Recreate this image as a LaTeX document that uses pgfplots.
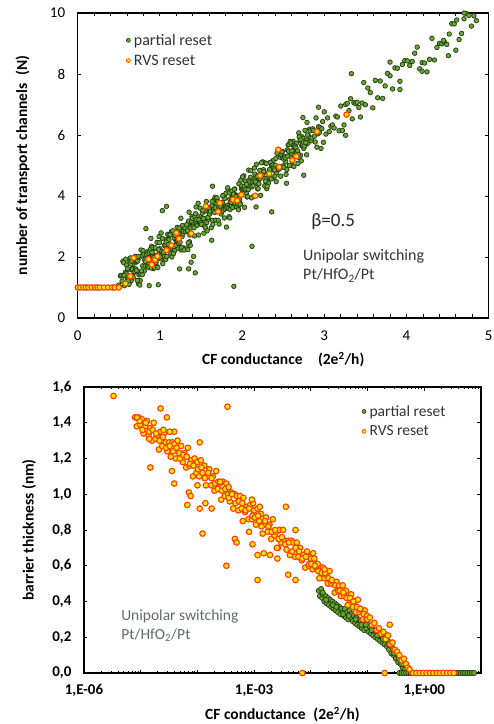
\documentclass[border=0pt]{standalone}
\usepackage{pgfplots}
\pgfplotsset{compat=1.18}
\usepackage{fontspec}
\setmainfont{Carlito}
\definecolor{gfill}{RGB}{106,166,50}
\definecolor{gedge}{RGB}{34,58,16}
\definecolor{ofill}{RGB}{255,228,0}
\definecolor{oedge}{RGB}{255,62,0}
\definecolor{notegray}{RGB}{100,104,110}
\definecolor{legtext}{RGB}{50,50,50}
\pgfplotsset{
  common/.style={
    scale only axis, anchor=south west,
    tick align=inside,
    major tick length=3.5pt, minor tick length=3.5pt,
    tick style={black, line width=0.8pt},
    axis line style={line width=1.4pt},
    /pgf/number format/assume math mode=true,
    legend cell align=left,
    legend style={draw=none, fill=none, row sep=6pt, column sep=0pt, inner sep=0pt,
      nodes={inner xsep=3.5pt, inner ysep=1pt, text=legtext}},
    legend image code/.code={\draw[##1, mark size=2pt, every mark/.append style={line width=0.6pt}] plot coordinates {(0pt,0pt)};},
    every axis x label/.style={at={(axis description cs:0.5,0)}, yshift=-42pt, anchor=center},
    every axis y label/.style={at={(axis description cs:0,0.5)}, xshift=-55pt, rotate=90, anchor=center},
    label style={font=\bfseries\fontsize{15.5}{16}\selectfont},
  },
  green/.style={only marks, mark=*, mark size=2.3pt, mark options={fill=gfill, draw=gedge, line width=0.7pt}},
  orange/.style={only marks, mark=*, mark size=2.7pt, mark options={fill=ofill, draw=oedge, line width=1.1pt}},
}
\begin{document}
\begin{tikzpicture}
\useasboundingbox (0,0) rectangle (494pt,724pt);
% ---------------- top panel ----------------
\begin{axis}[common,
  at={(77.7pt,406pt)}, width=411pt, height=305pt,
  xmin=0, xmax=5, ymin=0, ymax=10,
  xtick={0,...,5}, ytick={0,2,...,10}, minor x tick num=4,
  ticklabel style={font=\fontsize{15}{15}\selectfont},
  xticklabel style={yshift=-9pt},
  yticklabel style={xshift=-9pt},
  xlabel={CF conductance\quad (2e\textsuperscript{2}/h)},
  ylabel={number of transport channels\enspace(N)},
  legend style={at={(0.118,0.935)}, anchor=north west, font=\fontsize{16}{16}\selectfont},
]
\addplot[green] coordinates {
(0,1)(0.025,1)(0.05,1)(0.075,1)(0.1,1)(0.125,1)(0.15,1)(0.175,1)(0.2,1)(0.225,1)(0.25,1)(0.275,1)(0.3,1)(0.325,1)(0.35,1)(0.375,1)(0.4,1)(0.425,1)(0.45,1)(0.475,1)
(0.50,1.08)(0.51,1.01)(0.52,1.38)(0.53,1.40)(0.54,1.21)(0.55,1.86)(0.56,1.81)(0.57,1.06)(0.58,1.50)(0.59,1.45)
(0.60,1.33)(0.61,1.28)(0.62,1.58)(0.63,1.18)(0.64,1.97)(0.65,1.22)(0.66,1.59)(0.67,1.75)(0.68,1.63)(0.69,1.51)
(0.70,2.02)(0.71,1.83)(0.72,1.85)(0.73,1.87)(0.74,1.12)(0.75,1.98)(0.76,1.23)(0.77,2.23)(0.78,2.04)(0.79,1.71)
(0.80,2.15)(0.81,1.54)(0.82,1.70)(0.83,1.86)(0.84,1.95)(0.85,1.69)(0.86,1.99)(0.87,1.87)(0.88,1.89)(0.89,2.61)
(0.90,2.35)(0.91,2.09)(0.92,1.62)(0.93,2.27)(0.94,1.94)(0.95,1.96)(0.96,1.70)(0.97,2.07)(0.98,1.95)(0.99,2.67)
(1.00,2.27)(1.01,1.94)(1.02,2.17)(1.03,2.61)(1.04,2.07)(1.05,2.02)(1.06,2.39)(1.07,1.92)(1.08,2.57)(1.09,2.52)
(1.10,2.40)(1.11,2.56)(1.12,2.37)(1.13,2.25)(1.14,2.83)(1.15,2.22)(1.16,2.80)(1.17,2.19)(1.18,2.21)(1.19,2.58)
(1.20,2.53)(1.21,2.97)(1.22,2.29)(1.23,2.66)(1.24,2.75)(1.25,2.91)(1.26,2.23)(1.27,2.67)(1.28,2.76)(1.29,2.29)
(1.30,3.01)(1.31,2.26)(1.32,2.84)(1.33,2.30)(1.34,3.09)(1.35,3.18)(1.36,2.50)(1.37,2.38)(1.38,3.03)(1.39,3.33)
(1.40,3.07)(1.41,3.09)(1.42,2.69)(1.43,3.34)(1.44,3.64)(1.45,3.10)(1.46,3.33)(1.47,2.72)(1.48,3.16)(1.49,3.60)
(1.50,3.13)(1.51,3.29)(1.52,3.24)(1.53,3.26)(1.54,3.49)(1.55,3.51)(1.56,3.67)(1.57,3.13)(1.58,3.29)(1.59,3.24)
(1.60,3.47)(1.61,3.56)(1.62,3.58)(1.63,3.67)(1.64,3.20)(1.65,3.57)(1.66,3.87)(1.67,3.96)(1.68,3.21)(1.69,3.72)
(1.70,3.60)(1.71,3.20)(1.72,3.08)(1.73,3.66)(1.74,3.75)(1.75,3.70)(1.76,3.79)(1.77,4.02)(1.78,3.97)(1.79,3.92)
(1.80,3.66)(1.81,3.61)(1.82,3.70)(1.83,4.21)(1.84,3.32)(1.85,3.90)(1.86,3.78)(1.87,3.87)(1.88,4.03)(1.89,4.05)
(1.90,3.65)(1.91,4.23)(1.92,4.04)(1.93,3.92)(1.94,4.01)(1.95,3.61)(1.96,4.40)(1.97,3.86)(1.98,3.74)(1.99,4.25)
(2.00,4.20)(2.01,4.22)(2.02,4.66)(2.03,3.63)(2.04,4.49)(2.05,4.09)(2.06,3.97)(2.07,4.41)(2.08,4.85)(2.09,4.31)
(2.10,4.61)(2.11,4.42)(2.12,4.30)(2.13,4.46)(2.14,3.99)(2.15,4.92)(2.16,4.59)(2.17,4.68)(2.18,4.42)(2.19,4.23)
(2.20,4.67)(2.21,4.55)(2.22,4.57)(2.23,4.73)(2.24,4.68)(2.25,5.12)(2.26,4.86)(2.27,5.09)(2.28,4.34)(2.29,4.57)
(2.30,4.24)(2.31,4.47)(2.32,4.42)(2.33,4.79)(2.34,4.60)(2.35,5.11)(2.36,4.99)(2.37,4.59)(2.38,5.17)(2.39,4.84)
(2.40,4.65)(2.41,5.23)(2.42,4.76)(2.43,5.48)(2.44,4.87)(2.45,5.38)(2.46,4.91)(2.47,4.65)(2.48,4.95)(2.49,5.46)
(2.50,4.99)(2.51,4.94)(2.52,5.24)(2.53,5.12)(2.54,5.28)(2.55,5.51)(2.56,5.67)(2.57,5.69)(2.58,5.43)(2.59,5.31)
(2.60,5.40)(2.61,5.00)(2.62,5.79)(2.63,4.97)(2.64,5.55)(2.65,5.50)(2.66,5.73)(2.67,5.47)(2.68,5.07)(2.69,6.07)
(2.70,5.25)(2.71,5.34)(2.72,5.15)(2.73,5.94)(2.74,5.89)(2.75,5.56)(2.76,5.65)(2.77,5.67)(2.78,5.83)(2.79,6.41)
(2.80,5.73)(2.81,5.96)(2.82,6.19)(2.83,6.14)(2.84,5.81)(2.85,5.90)(2.86,6.20)(2.87,6.15)(2.88,5.96)(2.89,5.77)
(2.90,6.56)(2.91,5.60)(2.92,6.04)(2.93,6.27)(2.94,6.08)(2.95,6.24)(2.96,5.56)(2.97,6.21)(2.98,6.44)(2.99,5.76)
(3.00,6.76)
(3.02,6.03)(3.04,6.56)(3.06,6.11)(3.08,6.29)(3.10,6.33)(3.12,6.23)(3.14,6.62)(3.16,6.59)(3.18,6.14)(3.20,6.95)
(3.22,6.15)(3.24,6.33)(3.26,7.00)(3.28,7.04)(3.30,6.80)(3.32,7.19)(3.34,6.53)(3.36,7.06)(3.38,7.03)(3.40,7.07)
(3.42,6.90)(3.44,6.59)(3.46,7.05)(3.48,7.72)(3.50,6.99)
(3.53,7.54)(3.56,7.39)(3.59,6.89)(3.62,7.79)(3.65,7.22)(3.68,7.77)(3.71,7.20)(3.74,7.61)(3.77,8.02)(3.80,7.94)
(3.83,7.51)(3.86,8.20)(3.89,8.19)(3.92,7.76)(3.95,8.31)(3.98,8.44)(4.01,8.43)(4.04,8.28)(4.07,8.41)(4.10,8.68)
(4.13,8.88)(4.16,8.17)(4.19,8.37)(4.22,8.36)(4.25,8.07)(4.28,8.48)(4.31,9.17)(4.34,8.46)(4.37,8.87)(4.40,9.00)
(4.43,8.99)(4.46,9.05)(4.49,8.97)(4.52,9.31)(4.55,9.65)(4.58,9.64)(4.61,9.77)(4.64,9.13)(4.67,9.33)(4.70,9.81)
(4.73,9.98)(4.76,9.92)(4.79,9.57)(4.82,9.91)(4.85,9.75)
(0.555,1.38)(0.565,1.40)(0.575,1.14)(0.585,1.93)(0.595,1.74)(0.605,1.62)(0.615,1.22)(0.625,1.10)(0.635,1.82)(0.645,1.77)
(0.655,1.86)(0.665,1.60)(0.675,1.34)(0.685,1.50)(0.695,1.52)(0.705,1.61)(0.715,1.56)(0.725,1.23)(0.735,2.02)(0.745,1.41)
(0.755,1.08)(0.765,1.45)(0.775,1.54)(0.785,1.42)(0.795,2.21)(0.805,2.09)(0.815,1.90)(0.825,1.85)(0.835,2.08)(0.845,2.17)
(0.855,2.12)(0.865,1.65)(0.875,2.16)(0.885,2.25)(0.895,1.64)(0.905,2.15)(0.915,2.31)(0.925,1.98)(0.935,1.65)(0.945,2.30)
(0.955,1.83)(0.965,2.48)(0.975,1.66)(0.985,2.24)(0.995,2.47)(1.005,2.00)(1.015,2.79)(1.025,2.18)(1.035,1.78)(1.045,2.15)
(1.055,2.38)(1.065,2.40)(1.075,2.49)(1.085,2.02)(1.095,2.74)(1.105,2.41)(1.115,2.71)(1.125,2.73)(1.135,2.12)(1.145,2.00)
(1.155,2.86)(1.165,2.11)(1.175,2.62)(1.185,2.71)(1.195,2.38)(1.205,2.54)(1.215,2.56)(1.225,2.44)(1.235,2.95)(1.245,2.48)
(1.255,3.27)(1.265,2.31)(1.275,3.03)(1.285,2.84)(1.295,2.23)(1.305,2.95)(1.315,2.83)(1.325,3.06)(1.335,2.87)(1.345,2.47)
(1.355,3.47)(1.365,2.72)(1.375,2.95)(1.385,3.18)(1.395,3.27)(1.405,3.01)(1.415,2.96)(1.425,3.33)(1.435,3.42)(1.445,3.23)
(1.455,3.04)(1.465,3.76)(1.475,3.22)(1.485,3.10)(1.495,3.12)(1.505,3.07)(1.515,3.44)(1.525,3.53)(1.535,2.78)(1.545,3.01)
(1.555,2.96)(1.565,3.82)(1.575,2.86)(1.585,3.30)(1.595,3.60)(1.605,3.41)(1.615,3.50)(1.625,2.96)(1.635,3.82)(1.645,3.07)
(1.655,3.51)(1.665,3.46)(1.675,3.62)(1.685,3.92)(1.695,3.94)(1.705,3.82)(1.715,3.63)(1.725,3.51)(1.735,3.67)(1.745,3.41)
(1.755,3.50)(1.765,4.01)(1.775,3.54)(1.785,3.28)(1.795,3.58)(1.805,4.09)(1.815,3.62)(1.825,4.27)(1.835,3.59)(1.845,4.10)
(1.855,3.56)(1.865,3.79)(1.875,4.16)(1.885,3.62)(1.895,4.06)(1.905,4.22)(1.915,3.75)(1.925,3.98)(1.935,3.65)(1.945,3.74)
(1.955,3.55)(1.965,3.92)(1.975,3.73)(1.985,4.52)(1.995,4.33)(2.005,4.63)(2.015,4.23)(2.025,4.32)(2.035,4.20)(2.045,4.22)
(2.055,4.38)(2.065,3.98)(2.075,4.21)(2.085,4.51)(2.095,4.46)(2.105,4.83)(2.115,3.94)(2.125,4.45)(2.135,4.33)(2.145,4.49)
(2.155,4.72)(2.165,4.46)(2.175,5.04)(2.185,4.64)(2.195,4.24)(2.205,4.40)(2.215,4.84)(2.225,4.02)(2.235,5.09)(2.245,4.69)
(2.255,4.71)(2.265,4.80)(2.275,4.33)(2.285,4.49)(2.295,5.07)(2.305,4.32)(2.315,4.76)(2.325,4.71)(2.335,4.87)(2.345,5.10)
(2.355,4.56)(2.365,5.00)(2.375,5.02)(2.385,4.90)(2.395,4.85)(2.405,5.01)(2.415,4.47)(2.425,5.40)(2.435,4.93)(2.445,4.88)
(2.455,4.97)(2.465,5.27)(2.475,5.36)(2.485,5.45)(2.495,5.26)(2.505,5.21)(2.515,5.30)(2.525,5.25)(2.535,4.71)(2.545,4.87)
(2.555,5.31)(2.565,5.47)(2.575,5.00)(2.585,5.79)(2.595,5.74)(2.605,5.48)(2.615,5.15)(2.625,5.66)(2.635,5.61)(2.645,5.63)
(2.655,5.58)(2.665,5.39)(2.675,5.48)(2.685,5.36)(2.695,5.94)(2.705,5.82)(2.715,5.84)(2.725,5.65)(2.735,5.67)(2.745,5.76)
(2.755,5.64)(2.765,6.15)(2.775,5.75)(2.785,5.35)(2.795,6.00)
(0.83,2.93)(0.87,1.06)(0.98,1.09)(1.03,3.52)(1.08,3.66)(1.24,1.61)(1.35,1.61)(1.38,1.83)(1.41,2.02)(1.43,1.48)
(1.34,2.24)(1.64,4.32)(1.63,2.55)(1.81,2.98)(1.85,3.28)(1.90,1.04)(2.12,2.35)(2.17,3.64)(2.36,3.48)(2.54,4.42)
(2.75,4.68)(2.74,6.57)(2.93,6.91)(3.26,5.99)(3.33,8.01)(3.80,8.39)(3.92,7.49)(4.19,8.09)(4.51,8.60)(4.60,8.78)
(4.45,9.10)(4.70,10.00)
};
\addlegendentry{partial reset}
\addplot[orange] coordinates {
(0,1)(0.03,1)(0.07,1)(0.10,1)(0.13,1)(0.17,1)(0.21,1)(0.24,1)(0.27,1)(0.32,1)(0.37,1)(0.42,1)(0.45,1)(0.50,1)
(0.58,1.13)(0.64,1.37)(0.68,1.97)(0.86,1.93)(0.90,1.75)(0.94,1.91)(0.97,2.02)(1.08,2.22)(1.14,2.38)(1.20,2.79)
(1.23,2.60)(1.38,2.77)(1.56,3.66)(1.71,3.49)(1.73,3.77)(1.89,3.88)(1.94,3.85)(1.99,4.04)(2.16,4.01)(2.22,4.67)
(2.33,4.73)(2.45,4.95)(2.44,5.52)(2.61,5.17)(2.66,5.30)(2.91,6.11)(3.27,6.67)
};
\addlegendentry{RVS reset}
\node[anchor=west, font=\fontsize{19}{19}\selectfont, text=black!85] at (axis description cs:0.56,0.315) {β=0.5};
\node[anchor=west, align=left, font=\fontsize{16}{19}\selectfont, text=black!80] at (axis description cs:0.54,0.17) {Unipolar switching\\Pt/HfO\textsubscript{2}/Pt};
\end{axis}
% ---------------- bottom panel ----------------
\begin{axis}[common,
  at={(84pt,51pt)}, width=397pt, height=286pt,
  xmin=-6, xmax=1, ymin=0, ymax=1.6,
  xtick={-6,-5,-4,-3,-2,-1,0,1},
  xticklabels={{1,E-06},{},{},{1,E-03},{},{},{1,E+00},{}},
  minor xtick={-5.699,-5.523,-5.398,-5.301,-5.222,-5.155,-5.097,-5.046,
    -4.699,-4.523,-4.398,-4.301,-4.222,-4.155,-4.097,-4.046,
    -3.699,-3.523,-3.398,-3.301,-3.222,-3.155,-3.097,-3.046,
    -2.699,-2.523,-2.398,-2.301,-2.222,-2.155,-2.097,-2.046,
    -1.699,-1.523,-1.398,-1.301,-1.222,-1.155,-1.097,-1.046,
    -0.699,-0.523,-0.398,-0.301,-0.222,-0.155,-0.097,-0.046,
    0.301,0.477,0.602,0.699,0.778,0.845,0.903,0.954},
  minor tick length=2pt,
  ytick={0,0.2,...,1.6},
  yticklabel style={/pgf/number format/fixed, /pgf/number format/fixed zerofill,
    /pgf/number format/precision=1, /pgf/number format/use comma},
  ticklabel style={font=\bfseries\fontsize{15}{15}\selectfont},
  xticklabel style={yshift=-8pt},
  yticklabel style={xshift=-9pt},
  xlabel={CF conductance\enspace(2e\textsuperscript{2}/h)},
  ylabel={barrier thickness (nm)},
  legend style={at={(0.70,0.94)}, anchor=north west, font=\fontsize{15.5}{16}\selectfont},
  green/.append style={mark size=2.6pt},
  orange/.append style={mark size=2.8pt},
]
\addplot[green] coordinates {
(-1.86,0.46)(-1.84,0.43)(-1.82,0.47)(-1.80,0.42)(-1.78,0.44)(-1.76,0.40)(-1.74,0.43)(-1.72,0.39)(-1.70,0.42)(-1.68,0.38)
(-1.66,0.41)(-1.64,0.37)(-1.62,0.40)(-1.60,0.36)(-1.58,0.39)(-1.56,0.35)(-1.54,0.38)(-1.52,0.34)(-1.50,0.37)(-1.48,0.33)
(-1.46,0.36)(-1.44,0.34)(-1.42,0.32)(-1.40,0.36)(-1.38,0.31)(-1.36,0.34)(-1.34,0.30)(-1.32,0.35)(-1.30,0.31)(-1.28,0.33)
(-1.26,0.29)(-1.24,0.32)(-1.22,0.28)(-1.20,0.31)(-1.18,0.27)(-1.16,0.30)(-1.14,0.26)(-1.12,0.29)(-1.10,0.25)(-1.08,0.28)
(-1.06,0.24)(-1.04,0.29)(-1.02,0.25)(-1.00,0.27)(-0.98,0.23)(-0.96,0.26)(-0.94,0.22)(-0.92,0.25)(-0.90,0.21)(-0.88,0.24)
(-0.86,0.20)(-0.84,0.23)(-0.82,0.19)(-0.80,0.22)(-0.78,0.18)(-0.76,0.21)(-0.74,0.17)(-0.72,0.20)(-0.70,0.16)(-0.68,0.19)
(-0.66,0.15)(-0.64,0.18)(-0.62,0.13)(-0.60,0.16)(-0.58,0.11)(-0.56,0.14)(-0.54,0.10)(-0.52,0.12)(-0.50,0.08)(-0.48,0.11)
(-0.46,0.06)(-0.44,0.09)(-0.42,0.05)(-0.40,0.07)(-0.38,0.03)(-0.36,0.05)(-0.34,0.02)(-0.32,0.04)
(-1.79,0.45)(-1.73,0.41)(-1.61,0.38)(-1.55,0.37)(-1.43,0.33)(-1.33,0.32)(-1.21,0.30)(-1.11,0.27)(-1.03,0.27)(-0.93,0.24)
(-0.83,0.21)(-0.73,0.19)(-0.63,0.16)(-0.53,0.11)(-0.45,0.08)(-0.39,0.05)
(-0.44,0)(-0.40,0)(-0.36,0)(-0.32,0)(-0.28,0)(-0.24,0)(-0.20,0)(-0.16,0)(-0.12,0)(-0.08,0)(-0.04,0)(0,0)
(0.04,0)(0.08,0)(0.12,0)(0.16,0)(0.20,0)(0.24,0)(0.28,0)(0.32,0)(0.36,0)(0.40,0)(0.44,0)(0.48,0)(0.52,0)
(0.56,0)(0.60,0)(0.64,0)(0.68,0)(0.72,0)(0.76,0)(0.80,0)(0.84,0)(0.88,0)
};
\addlegendentry{partial reset}
\addplot[orange] coordinates {
(-5.10,1.43)(-5.07,1.38)(-5.04,1.43)(-5.01,1.39)(-4.98,1.42)(-4.95,1.34)(-4.92,1.38)(-4.89,1.41)(-4.86,1.33)(-4.83,1.37)
(-4.80,1.30)(-4.77,1.40)(-4.74,1.31)(-4.71,1.33)(-4.68,1.25)(-4.65,1.35)(-4.62,1.27)(-4.59,1.34)(-4.56,1.29)(-4.53,1.24)
(-4.50,1.29)(-4.47,1.21)(-4.44,1.29)(-4.41,1.28)(-4.38,1.20)(-4.35,1.30)(-4.32,1.23)(-4.29,1.27)(-4.26,1.18)(-4.23,1.23)
(-4.20,1.15)(-4.17,1.26)(-4.14,1.16)(-4.11,1.19)(-4.08,1.10)(-4.05,1.20)(-4.02,1.12)
(-5.02,1.41)(-4.97,1.36)(-4.91,1.40)(-4.85,1.35)(-4.79,1.36)(-4.73,1.34)(-4.67,1.30)(-4.61,1.32)(-4.55,1.26)(-4.49,1.27)
(-4.43,1.24)(-4.37,1.26)(-4.31,1.20)(-4.25,1.22)(-4.19,1.21)(-4.13,1.17)(-4.07,1.16)
(-4.00,1.18)(-3.97,1.10)(-3.94,1.19)(-3.91,1.12)(-3.88,1.16)(-3.85,1.05)(-3.82,1.10)(-3.79,1.14)(-3.76,1.05)(-3.73,1.10)
(-3.70,1.02)(-3.67,1.13)(-3.64,1.03)(-3.61,1.06)(-3.58,0.97)(-3.55,1.07)(-3.52,0.99)(-3.49,1.06)(-3.46,1.00)(-3.43,0.96)
(-3.40,1.01)(-3.37,0.92)(-3.34,1.00)(-3.31,0.99)(-3.28,0.91)(-3.25,0.99)(-3.22,0.92)(-3.19,0.98)(-3.16,0.90)(-3.13,0.93)
(-3.10,0.86)(-3.07,0.94)(-3.04,0.86)(-3.01,0.91)
(-3.99,1.14)(-3.93,1.15)(-3.87,1.09)(-3.81,1.12)(-3.75,1.09)(-3.69,1.06)(-3.63,1.07)(-3.57,1.02)(-3.51,1.03)(-3.45,0.98)
(-3.39,1.00)(-3.33,0.95)(-3.27,0.96)(-3.21,0.95)(-3.15,0.91)(-3.09,0.92)(-3.03,0.88)
(-3.00,0.91)(-2.97,0.83)(-2.94,0.92)(-2.91,0.85)(-2.88,0.89)(-2.85,0.78)(-2.82,0.83)(-2.79,0.87)(-2.76,0.79)(-2.73,0.83)
(-2.70,0.75)(-2.67,0.86)(-2.64,0.77)(-2.61,0.79)(-2.58,0.70)(-2.55,0.80)(-2.52,0.73)(-2.49,0.80)(-2.46,0.74)(-2.43,0.69)
(-2.40,0.74)(-2.37,0.66)(-2.34,0.74)(-2.31,0.73)(-2.28,0.65)(-2.25,0.73)(-2.22,0.65)(-2.19,0.70)(-2.16,0.63)(-2.13,0.66)
(-2.10,0.59)(-2.07,0.68)(-2.04,0.60)(-2.01,0.65)
(-2.99,0.87)(-2.93,0.88)(-2.87,0.82)(-2.81,0.85)(-2.75,0.82)(-2.69,0.79)(-2.63,0.80)(-2.57,0.75)(-2.51,0.76)(-2.45,0.72)
(-2.39,0.73)(-2.33,0.68)(-2.27,0.70)(-2.21,0.68)(-2.15,0.64)(-2.09,0.65)(-2.03,0.61)
(-2.00,0.64)(-1.97,0.58)(-1.94,0.64)(-1.91,0.59)(-1.88,0.61)(-1.85,0.53)(-1.82,0.57)(-1.79,0.59)(-1.76,0.53)(-1.73,0.55)
(-1.70,0.50)(-1.67,0.57)(-1.64,0.50)(-1.61,0.51)(-1.58,0.45)(-1.55,0.51)(-1.52,0.46)
(-1.99,0.61)(-1.93,0.60)(-1.87,0.57)(-1.81,0.56)(-1.75,0.56)(-1.69,0.53)(-1.63,0.52)(-1.57,0.49)(-1.51,0.48)
(-1.50,0.49)(-1.47,0.43)(-1.44,0.49)(-1.41,0.43)(-1.38,0.46)(-1.35,0.38)(-1.32,0.41)(-1.29,0.44)(-1.26,0.37)(-1.23,0.40)
(-1.20,0.34)(-1.17,0.41)(-1.14,0.34)(-1.11,0.35)(-1.08,0.30)(-1.05,0.35)(-1.02,0.30)
(-1.49,0.46)(-1.43,0.45)(-1.37,0.42)(-1.31,0.42)(-1.25,0.40)(-1.19,0.37)(-1.13,0.36)(-1.07,0.33)(-1.01,0.32)
(-1.00,0.30)(-0.96,0.31)(-0.92,0.27)(-0.88,0.28)(-0.84,0.24)(-0.80,0.25)(-0.76,0.22)(-0.72,0.23)(-0.68,0.19)(-0.64,0.21)
(-0.60,0.16)(-0.56,0.17)(-0.52,0.13)(-0.48,0.12)(-0.44,0.10)(-0.40,0.07)(-0.36,0.08)(-0.32,0.05)(-0.29,0.03)(-0.26,0.02)
(-0.20,0)(-0.14,0)(-0.08,0)(-0.02,0)(0.04,0)(0.10,0)(0.16,0)(0.22,0)(0.28,0)(0.34,0)(0.40,0)(0.46,0)(0.52,0)
(-5.48,1.55)(-5.07,1.43)(-4.65,1.48)(-4.54,1.43)(-3.47,1.49)(-3.96,1.29)(-4.83,1.15)(-4.45,1.13)(-4.41,1.06)(-4.15,1.01)
(-4.12,0.99)(-4.18,0.94)(-3.96,0.92)(-3.91,0.78)(-3.75,0.92)(-3.86,0.95)(-3.49,0.60)(-3.34,0.75)(-3.31,0.73)(-3.09,0.79)
(-3.03,0.72)(-2.94,0.66)(-2.94,0.52)(-2.83,0.67)(-2.72,0.66)(-2.59,0.64)(-2.40,0.55)(-2.27,0.52)(-2.27,0.80)(-2.44,0.93)
(-1.96,0.67)(-1.76,0.58)(-0.61,0.27)(-3.02,0.95)(-2.90,0.93)(-3.04,0.97)(-4.41,1.35)(-4.49,1.35)(-2.15,0)(-0.70,0)
(-4.85,1.31)(-4.60,1.36)(-4.00,1.05)(-3.60,1.07)(-3.45,1.04)(-3.20,0.85)(-2.60,0.70)
};
\addlegendentry{RVS reset}
\node[anchor=west, align=left, font=\fontsize{15.5}{19}\selectfont, text=notegray] at (axis description cs:0.085,0.165) {Unipolar switching\\Pt/HfO\textsubscript{2}/Pt};
\end{axis}
\end{tikzpicture}
\end{document}
